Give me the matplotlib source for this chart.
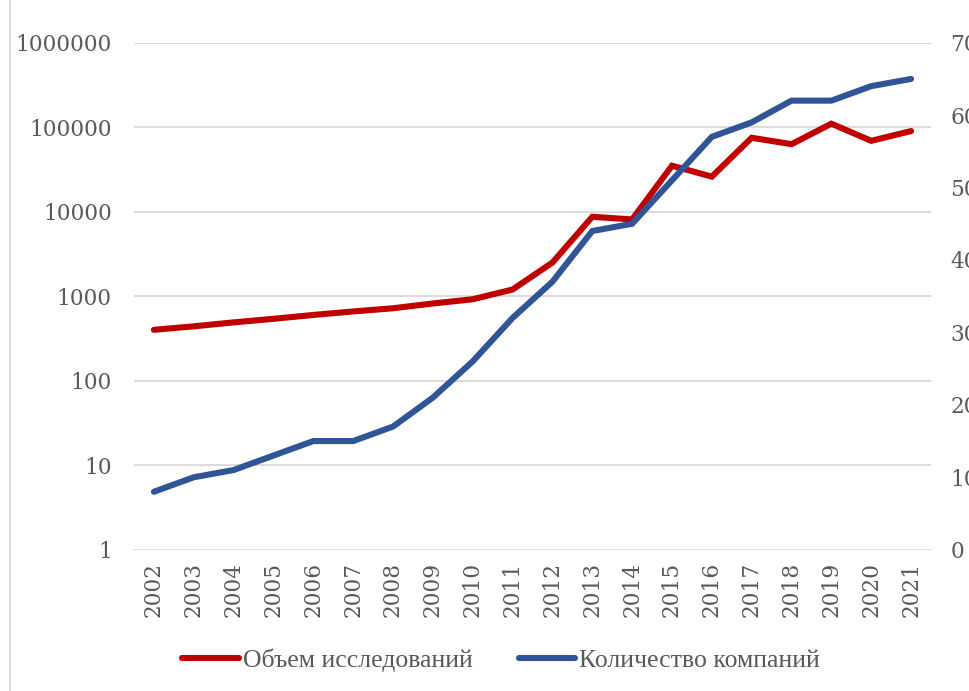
import numpy as np
import matplotlib
matplotlib.use("Agg")
import matplotlib.pyplot as plt
from matplotlib.lines import Line2D

years = [str(y) for y in range(2002, 2022)]
# research volume, left log axis
volume = [400, 440, 490, 540, 600, 660, 720, 820, 920, 1200,
          2500, 8700, 8100, 35000, 26000, 75000, 63000, 110000, 69000, 90000]
# number of companies, right axis
companies = [8, 10, 11, 13, 15, 15, 17, 21, 26, 32,
             37, 44, 45, 51, 57, 59, 62, 62, 64, 65]

left_ticks = [1, 10, 100, 1000, 10000, 100000, 1000000]
right_ticks = [0, 10, 20, 30, 40, 50, 60, 70]

red = '#C00000'
blue = '#2F5597'
txt = '#595959'
grid = '#D9D9D9'

plt.rcParams['font.family'] = ['DejaVu Serif']

W, H = 970, 691
fig = plt.figure(figsize=(W / 100, H / 100), dpi=100)
ax = fig.add_axes([134 / W, 1 - 549.7 / H, 797 / W, (549.7 - 42.7) / H])
ax2 = ax.twinx()

x = np.arange(len(years))
ax.plot(x, volume, color=red, lw=4.4, solid_capstyle='round', solid_joinstyle='miter')
ax2.plot(x, companies, color=blue, lw=4.4, solid_capstyle='round', solid_joinstyle='miter')

ax.set_yscale('log')
ax.set_ylim(1, 1000000)
ax.set_yticks(left_ticks)
ax.set_yticklabels([str(v) for v in left_ticks])
ax.yaxis.set_minor_locator(matplotlib.ticker.NullLocator())
ax2.set_ylim(0, 70)
ax2.set_yticks(right_ticks)
ax2.set_yticklabels([str(v) for v in right_ticks])

ax.set_xlim(-0.5, len(years) - 0.5)
ax.set_xticks(x)
ax.set_xticklabels(years, rotation=90)

for a in (ax, ax2):
    for s in a.spines.values():
        s.set_visible(False)
    a.tick_params(length=0, colors=txt, labelsize=15.6)

ax.tick_params(axis='y', pad=16)
ax2.tick_params(axis='y', pad=14)
ax.tick_params(axis='x', pad=9)

ax.grid(axis='y', color=grid, lw=1.3)
ax.set_axisbelow(True)

# chart border on the left
fig.add_artist(Line2D([10 / W, 10 / W], [0, 1], color=grid, lw=1.3))

handles = [Line2D([], [], color=red, lw=4.4, solid_capstyle='round'),
           Line2D([], [], color=blue, lw=4.4, solid_capstyle='round')]
leg = fig.legend(handles, ['Объем исследований', 'Количество компаний'],
                 loc='center', bbox_to_anchor=(501 / W, 1 - 660 / H), ncol=2,
                 frameon=False, prop={'family': 'Liberation Serif', 'size': 18.5},
                 handlelength=2.2, handletextpad=0.15, columnspacing=1.8)
for t in leg.get_texts():
    t.set_color(txt)

fig.savefig('out.png', dpi=100)
